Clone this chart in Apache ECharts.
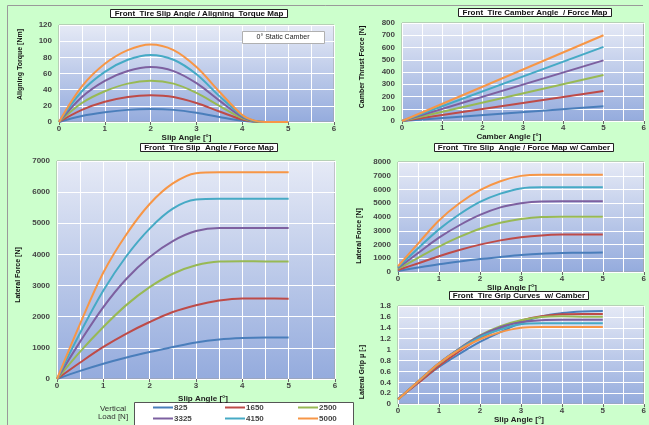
<!DOCTYPE html>
<html>
<head>
<meta charset="utf-8">
<script src="https://cdn.jsdelivr.net/npm/echarts@6/dist/echarts.min.js"></script>
<style>
html, body { margin: 0; padding: 0; background: #ccffcc; }
#main { width: 649px; height: 425px; }
</style>
</head>
<body>
<div id="main"></div>
<script>
// vertical loads [N] and the colours used for them in every chart
const loads = ['825', '1650', '2500', '3325', '4150', '5000']
const colors = ['#4a7ebb', '#be4b48', '#98b954', '#7d60a0', '#46aac5', '#f79646']

// aligning torque [Nm] vs slip angle [deg]
const torqueSlip = [0, 0.5, 1, 1.5, 2, 2.5, 3, 3.5, 4, 4.25, 4.5, 5]
const torqueValues = [
  [0, 7.4, 12, 15, 16, 15, 11.4, 6.2, 1.4, 0.3, 0, 0],
  [0, 15, 25, 31, 33, 31, 23.5, 13, 3, 0.7, 0, 0],
  [0, 23.5, 38, 47.5, 51, 47.5, 36, 20, 4.6, 1, 0, 0],
  [0, 31, 51, 63, 68, 63, 48, 26.5, 6, 1.4, 0, 0],
  [0, 38, 62, 77, 83, 77, 59, 32, 7.5, 1.7, 0, 0],
  [0, 44, 72, 89, 96, 89, 68, 37.5, 8.6, 2, 0, 0]
]

// camber thrust [N] vs camber angle [deg]
const camberAngle = [0, 5]
const camberValues = [
  [0, 120],
  [0, 245],
  [0, 375],
  [0, 495],
  [0, 605],
  [0, 700]
]

// lateral force [N] vs slip angle, no camber
const slip = [0, 0.5, 1, 1.5, 2, 2.5, 3, 3.5, 4, 4.5, 5]
const forceValues = [
  [0, 260, 490, 690, 865, 1025, 1175, 1270, 1315, 1330, 1330],
  [0, 530, 1030, 1460, 1830, 2150, 2370, 2520, 2585, 2585, 2580],
  [0, 880, 1670, 2380, 2950, 3380, 3650, 3770, 3780, 3775, 3775],
  [0, 1200, 2310, 3220, 3920, 4430, 4750, 4850, 4850, 4850, 4850],
  [0, 1480, 2840, 3950, 4830, 5470, 5760, 5790, 5790, 5790, 5790],
  [0, 1780, 3420, 4650, 5620, 6280, 6610, 6640, 6640, 6640, 6640]
]

// lateral force [N] vs slip angle, with camber
const camberForceValues = [
  [80, 330, 560, 760, 940, 1090, 1230, 1330, 1380, 1405, 1410],
  [150, 640, 1150, 1600, 1990, 2300, 2520, 2660, 2720, 2730, 2730],
  [220, 1050, 1850, 2550, 3150, 3580, 3860, 4000, 4020, 4010, 4010],
  [290, 1400, 2500, 3400, 4150, 4700, 5000, 5130, 5140, 5140, 5140],
  [350, 1750, 3100, 4200, 5100, 5700, 6080, 6160, 6160, 6160, 6160],
  [420, 2100, 3750, 5000, 5950, 6600, 6990, 7080, 7080, 7080, 7080]
]

// lateral grip mu [-] vs slip angle, with camber
const gripValues = [
  [0.097, 0.40, 0.68, 0.92, 1.14, 1.32, 1.49, 1.61, 1.67, 1.70, 1.71],
  [0.091, 0.39, 0.70, 0.97, 1.21, 1.39, 1.53, 1.61, 1.65, 1.655, 1.655],
  [0.088, 0.42, 0.74, 1.02, 1.26, 1.43, 1.54, 1.60, 1.61, 1.605, 1.605],
  [0.087, 0.42, 0.75, 1.02, 1.25, 1.41, 1.50, 1.54, 1.546, 1.546, 1.546],
  [0.084, 0.42, 0.75, 1.01, 1.23, 1.37, 1.465, 1.484, 1.484, 1.484, 1.484],
  [0.084, 0.42, 0.75, 1.00, 1.19, 1.32, 1.40, 1.416, 1.416, 1.416, 1.416]
]

const chart = echarts.init(document.getElementById('main'))

const plotBg = new echarts.graphic.LinearGradient(0, 0, 0, 1, [
  { offset: 0, color: '#e6eaf6' },
  { offset: 1, color: '#94abdd' }
])

// plain numbers, no thousands separators
const plain = v => String(+v.toFixed(2))

function grid (left, top, width, height) {
  return {
    left, top, width, height, show: true,
    backgroundColor: plotBg, borderColor: '#a0a0a0', borderWidth: 1
  }
}

function xAxis (idx, name, pad) {
  return {
    gridIndex: idx, type: 'value', min: 0, max: 6, interval: 1,
    name, nameLocation: 'middle', nameGap: 9,
    nameTextStyle: { fontSize: 8, fontWeight: 'bold', color: '#222', padding: pad },
    axisLine: { show: false },
    axisTick: { show: true, length: 3, lineStyle: { color: '#666' } },
    axisLabel: { fontSize: 8, fontWeight: 'bold', color: '#444', margin: 3, formatter: plain },
    splitLine: { lineStyle: { color: '#fff', width: 1 } },
    minorTick: { show: false, splitNumber: 2 },
    minorSplitLine: { show: true, lineStyle: { color: '#fff', width: 1 } }
  }
}

function yAxis (idx, name, max, interval, gap, pad) {
  return {
    gridIndex: idx, type: 'value', min: 0, max, interval,
    name, nameLocation: 'middle', nameGap: gap, nameRotate: 90,
    nameTextStyle: {
      fontSize: 7, fontWeight: 'bold', color: '#111', padding: pad,
      fontFamily: 'Liberation Sans Narrow, Liberation Sans, sans-serif'
    },
    axisLine: { show: false },
    axisTick: { show: false },
    axisLabel: { fontSize: 8, fontWeight: 'bold', color: '#444', margin: 7, formatter: plain },
    splitLine: { lineStyle: { color: '#fff', width: 1 } }
  }
}

function makeSeries (xs, rows, idx) {
  return rows.map((row, i) => ({
    name: loads[i],
    type: 'line',
    xAxisIndex: idx,
    yAxisIndex: idx,
    data: row.map((v, j) => [xs[j], v]),
    smooth: 0.35,
    symbol: 'none',
    silent: true,
    lineStyle: { width: 2, color: colors[i] },
    itemStyle: { color: colors[i] }
  }))
}

function boxTitle (text, cx, top) {
  return {
    text, left: cx, top, textAlign: 'center',
    backgroundColor: '#fff', borderColor: '#222', borderWidth: 1,
    padding: [0, 4],
    textStyle: { fontSize: 8, fontWeight: 'bold', color: '#111', lineHeight: 9 }
  }
}

const option = {
  animation: false,
  textStyle: { fontFamily: 'Liberation Sans, Arial, sans-serif' },
  title: [
    boxTitle('Front  Tire Slip Angle / Aligning  Torque Map', 195, 9),
    boxTitle('Front  Tire Camber Angle  / Force Map', 531, 8),
    boxTitle('Front  Tire Slip  Angle / Force Map', 205, 143),
    boxTitle('Front  Tire Slip  Angle / Force Map w/ Camber', 520, 143),
    boxTitle('Front  Tire Grip Curves  w/ Camber', 515, 291)
  ],
  grid: [
    grid(59, 25, 275, 97),
    grid(402, 23, 244, 98),
    grid(57, 161, 278, 218),
    grid(398, 162, 246, 110),
    grid(398, 306, 246, 102)
  ],
  xAxis: [
    xAxis(0, 'Slip Angle [°]', [0, 20, 0, 0]),
    xAxis(1, 'Camber Angle [°]', [0, 28, 0, 0]),
    xAxis(2, 'Slip Angle [°]', [0, 0, 0, 14]),
    xAxis(3, 'Slip Angle [°]', [0, 18, 0, 0]),
    xAxis(4, 'Slip Angle [°]', [0, 4, 0, 0])
  ],
  yAxis: [
    yAxis(0, 'Aligning Torque [Nm]', 120, 20, 35, [0, 0, 0, 18]),
    yAxis(1, 'Camber Thrust Force [N]', 800, 100, 36, [0, 0, 0, 10]),
    yAxis(2, 'Lateral Force [N]', 7000, 1000, 35, [0, 10, 0, 0]),
    yAxis(3, 'Lateral Force [N]', 8000, 1000, 35, [0, 38, 0, 0]),
    yAxis(4, 'Lateral Grip μ [-]', 1.8, 0.2, 32, [0, 34, 0, 0])
  ],
  legend: [0, 1, 2].map(c => ({
    data: [loads[c], loads[c + 3]],
    orient: 'vertical',
    left: [153, 225, 298][c],
    top: 403,
    height: 22,
    padding: 0,
    icon: 'rect',
    itemWidth: 20,
    itemHeight: 2,
    itemGap: 2,
    selectedMode: false,
    textStyle: { fontSize: 8, lineHeight: 9, fontWeight: 'bold', color: '#444', padding: [0, 0, 0, -4] }
  })),
  graphic: [
    { type: 'line', silent: true, z: -1, shape: { x1: 7.5, y1: 5.5, x2: 643, y2: 5.5 }, style: { stroke: '#9a9a9a', lineWidth: 1 } },
    { type: 'line', silent: true, z: -1, shape: { x1: 7.5, y1: 5.5, x2: 7.5, y2: 425 }, style: { stroke: '#9a9a9a', lineWidth: 1 } },
    { type: 'rect', silent: true, z: 10, shape: { x: 242.5, y: 31.5, width: 82, height: 12 }, style: { fill: '#fff', stroke: '#b0b0b0', lineWidth: 1 } },
    { type: 'text', silent: true, z: 11, style: { text: '0° Static Camber', x: 283, y: 37.5, align: 'center', verticalAlign: 'middle', fontSize: 7, fill: '#222', fontFamily: 'Liberation Sans, Arial, sans-serif' } },
    { type: 'rect', silent: true, z: -1, shape: { x: 134.5, y: 402.5, width: 219, height: 30 }, style: { fill: '#fff', stroke: '#555', lineWidth: 1 } },
    { type: 'text', silent: true, style: { text: 'Vertical\nLoad [N]', x: 113, y: 413, align: 'center', verticalAlign: 'middle', fontSize: 8, lineHeight: 8, fill: '#333', fontFamily: 'Liberation Sans, Arial, sans-serif' } }
  ],
  series: [
    ...makeSeries(torqueSlip, torqueValues, 0),
    ...makeSeries(camberAngle, camberValues, 1),
    ...makeSeries(slip, forceValues, 2),
    ...makeSeries(slip, camberForceValues, 3),
    ...makeSeries(slip, gripValues, 4)
  ]
}

chart.setOption(option)
</script>
</body>
</html>
